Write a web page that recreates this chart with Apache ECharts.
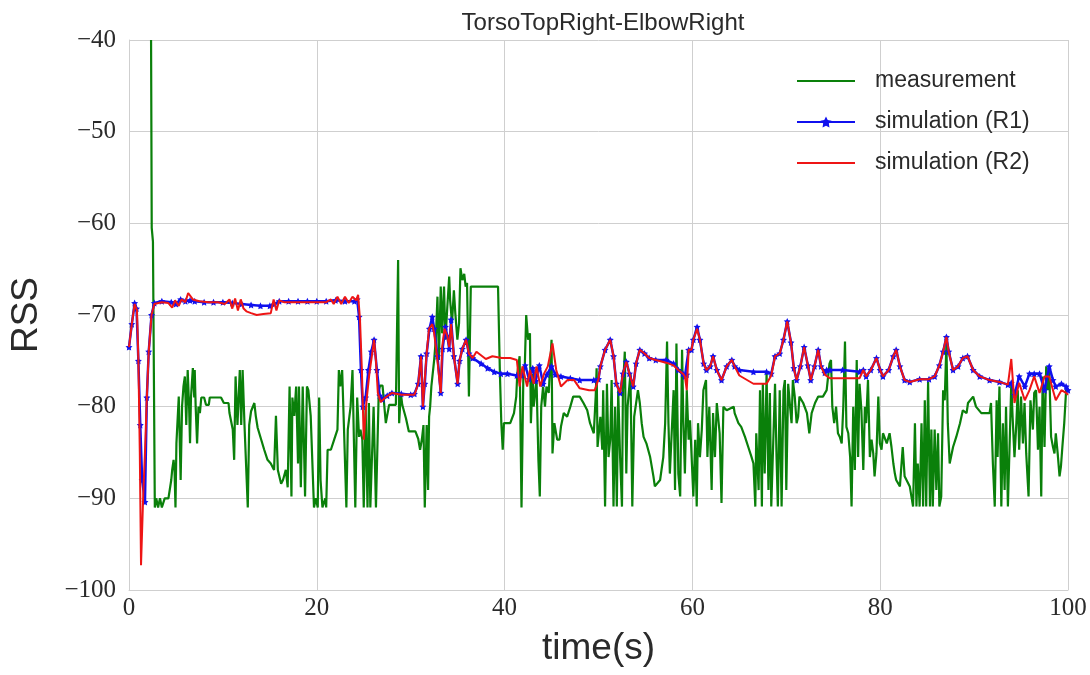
<!DOCTYPE html>
<html>
<head>
<meta charset="utf-8">
<script src="https://cdn.jsdelivr.net/npm/echarts@6/dist/echarts.min.js"></script>
<style>
html,body{margin:0;padding:0;background:#fff;}
#chart{width:1090px;height:675px;}
</style>
</head>
<body>
<div id="chart"></div>
<script>
const chartTitle = "TorsoTopRight-ElbowRight";
const seriesNames = ["measurement", "simulation (R1)", "simulation (R2)"];
const xTicks = [0, 20, 40, 60, 80, 100];
const yTicks = [-100, -90, -80, -70, -60, -50, -40];

const measurement = [
[2.35,-40],[2.42,-60.5],[2.55,-62],[2.75,-91],[2.9,-90],[3.1,-91],[3.3,-90],[3.5,-91],[3.8,-90],[4.2,-90],[4.5,-88],[4.6,-86.9],[4.75,-85.8],[4.85,-87],[4.95,-91],[5.05,-84],[5.3,-78.9],[5.5,-88],[5.65,-80],[5.8,-77.8],[5.95,-76.7],[6.1,-82],[6.25,-76],[6.4,-80],[6.5,-84],[6.6,-79],[6.8,-75.8],[6.95,-79],[7.0,-76],[7.1,-80],[7.25,-84],[7.4,-80],[7.55,-80.7],[7.7,-79],[8.0,-79],[8.2,-79.8],[8.5,-79.8],[8.6,-79],[9.0,-79],[9.5,-79],[9.8,-79],[10.1,-79.6],[10.6,-79.6],[10.7,-80.7],[11.05,-82.5],[11.2,-85.8],[11.35,-76.7],[11.55,-82],[11.8,-76],[11.95,-82],[12.1,-76],[12.3,-82],[12.65,-91],[12.8,-82],[13.0,-80.5],[13.35,-79.6],[13.5,-81],[13.7,-82.3],[14.05,-83.5],[14.4,-84.7],[14.75,-85.8],[15.1,-86.2],[15.45,-86.9],[15.65,-81],[15.85,-86.9],[16.2,-88.4],[16.4,-88],[16.7,-86.9],[16.9,-88.8],[17.1,-77.8],[17.3,-89.8],[17.4,-79],[17.6,-81],[17.8,-77.8],[18.0,-86.2],[18.1,-77.8],[18.3,-88.8],[18.5,-77.8],[18.75,-89.8],[18.95,-77.8],[19.1,-78.2],[19.35,-81],[19.7,-91],[19.9,-90],[20.1,-91],[20.25,-79],[20.4,-88],[20.6,-91],[20.9,-90],[21.0,-91],[21.15,-84.7],[21.5,-84.7],[21.85,-83.6],[22.2,-82.5],[22.35,-76],[22.5,-77.8],[22.7,-76],[22.9,-82.5],[23.15,-91],[23.3,-82.5],[23.6,-80],[23.8,-76],[23.95,-83.6],[24.1,-91],[24.3,-79],[24.5,-83.3],[24.65,-82.5],[24.85,-83.6],[25.0,-91],[25.2,-80],[25.4,-91],[25.55,-79.6],[25.7,-91],[25.9,-84.7],[26.05,-80],[26.3,-91],[26.6,-78.2],[26.75,-77.7],[27.0,-77.7],[27.18,-79.8],[27.35,-81.8],[27.53,-81.8],[27.7,-79.8],[28.06,-79.8],[28.42,-79.8],[28.66,-64],[28.77,-81.8],[28.95,-78.5],[29.1,-79.8],[29.5,-81.3],[29.8,-82.7],[30.5,-82.7],[30.8,-83.5],[31.0,-84.7],[31.2,-83.5],[31.36,-82],[31.5,-91],[31.7,-82],[31.85,-89.1],[31.96,-81.1],[32.07,-80],[32.2,-77.8],[32.5,-74.9],[32.67,-72.7],[32.85,-68],[33.0,-74.9],[33.2,-66.9],[33.35,-72],[33.55,-66.9],[33.7,-72.7],[33.9,-69.1],[34.1,-65.8],[34.2,-68.4],[34.4,-70.9],[34.6,-67.3],[34.75,-69.8],[34.97,-72.7],[35.15,-70.9],[35.3,-64.9],[35.5,-66.2],[35.7,-65.5],[35.85,-66.9],[36.0,-66.5],[36.2,-78.9],[36.4,-66.9],[39.3,-66.9],[39.5,-76.4],[39.65,-81.8],[39.8,-84.7],[39.93,-81.8],[40.6,-81.8],[41.0,-80.7],[41.24,-78.9],[41.35,-76.4],[41.6,-74.5],[41.8,-91],[42.0,-76.4],[42.15,-75.6],[42.3,-70],[42.5,-72.7],[42.7,-72],[42.8,-81.8],[43.0,-76.4],[43.1,-80],[43.4,-77.1],[43.6,-85.8],[43.75,-89.8],[43.9,-80],[44.1,-77.8],[44.3,-80],[44.46,-77.8],[44.7,-78.5],[45.0,-72.7],[45.1,-85.1],[45.3,-81.8],[45.6,-83.6],[45.85,-83.6],[46.0,-82.2],[46.3,-80.7],[46.66,-81.1],[47.0,-80],[47.3,-78.9],[48.0,-78.9],[48.4,-79.6],[48.8,-80.4],[49.1,-81.8],[49.5,-82.9],[49.7,-78.9],[49.8,-75.8],[49.9,-84.4],[50.2,-81.1],[50.4,-84.7],[50.5,-78.2],[50.7,-90.9],[50.9,-77.5],[51.07,-85.5],[51.25,-83.6],[51.4,-77.1],[51.6,-90.9],[51.77,-80],[51.95,-90.9],[52.1,-78.2],[52.3,-85.5],[52.5,-90.9],[52.6,-78.2],[52.8,-74],[52.96,-87.3],[53.1,-80],[53.4,-76.4],[53.6,-90.9],[53.8,-81.1],[54.2,-78.2],[54.4,-79.6],[54.6,-81.8],[54.8,-83.3],[55.1,-84],[55.5,-85.5],[55.85,-87.6],[56.0,-88.7],[56.56,-88],[56.9,-85.5],[57.1,-81.8],[57.3,-72.9],[57.45,-81.8],[57.6,-87.3],[58.0,-78.2],[58.15,-89.1],[58.3,-73.1],[58.5,-87.3],[58.7,-89.8],[58.9,-73.8],[59.04,-81.8],[59.2,-87.3],[59.4,-78.2],[59.6,-83.6],[59.75,-81.5],[60.1,-89.8],[60.3,-83.6],[60.46,-90.9],[60.6,-81.8],[60.8,-85.5],[61.0,-82.5],[61.17,-78.2],[61.45,-77.1],[61.6,-85.5],[61.8,-80],[62.05,-89.1],[62.2,-80.7],[62.4,-85.5],[62.6,-79.6],[62.9,-82.9],[63.1,-90.5],[63.3,-80],[63.65,-80.4],[64.4,-80],[64.5,-80.7],[64.9,-81.8],[65.2,-82.2],[65.6,-83.3],[65.95,-84.4],[66.3,-85.5],[66.5,-86.2],[66.7,-90.9],[66.8,-82.9],[67.05,-89.1],[67.2,-78.2],[67.4,-90.9],[67.5,-77.5],[67.7,-87.3],[67.9,-76.4],[68.1,-89.1],[68.25,-78.5],[68.4,-90.9],[68.6,-90.9],[68.8,-77.5],[68.96,-85.5],[69.1,-90.9],[69.3,-78.2],[69.5,-90.9],[69.7,-78.2],[69.85,-77.1],[70.0,-89.1],[70.2,-77.5],[70.4,-80],[70.56,-81.8],[70.7,-77.1],[70.9,-78.9],[71.1,-81.8],[71.26,-81.1],[71.4,-78.9],[71.8,-79.6],[72.2,-80.7],[72.45,-82.9],[72.7,-80.7],[73.06,-79.6],[73.4,-78.9],[73.9,-78.9],[74.3,-78.2],[74.6,-75.3],[74.76,-74.9],[74.9,-80],[75.1,-81.8],[75.3,-80],[75.5,-82.9],[75.7,-83.3],[75.9,-84],[76.07,-80],[76.25,-72.9],[76.4,-82.2],[76.6,-82.9],[76.8,-85.5],[76.95,-90.9],[77.13,-80],[77.3,-86.9],[77.5,-74.9],[77.65,-85.5],[77.8,-77.5],[78.0,-80.4],[78.2,-86.9],[78.37,-80],[78.5,-81.8],[78.7,-77.1],[78.9,-85.5],[79.08,-83.6],[79.26,-85.1],[79.4,-87.6],[79.6,-85.1],[79.8,-78.9],[79.96,-84],[80.14,-84.7],[80.3,-82.9],[80.7,-84],[81.0,-82.9],[81.2,-84.4],[81.4,-86.2],[81.56,-87.3],[81.7,-88],[82.1,-88.7],[82.4,-84.4],[82.6,-87.6],[83.15,-88.7],[83.5,-90.9],[83.7,-81.8],[83.86,-90.9],[84.0,-86.2],[84.2,-90.9],[84.4,-81.8],[84.57,-90.9],[84.75,-79.3],[84.9,-90.9],[85.1,-77.3],[85.3,-90.9],[85.45,-82.5],[85.6,-90.9],[85.8,-82.5],[85.98,-89.1],[86.16,-82.9],[86.3,-90.9],[86.5,-89.8],[86.7,-78.2],[86.87,-79.3],[87.05,-73.1],[87.2,-81.8],[87.4,-86.2],[87.76,-84.4],[88.1,-83.3],[88.5,-81.8],[88.8,-80.4],[89.2,-80.7],[89.35,-79.6],[89.9,-78.9],[90.2,-80],[90.77,-80.7],[91.65,-80.7],[91.8,-79.6],[92.0,-86.2],[92.2,-90.9],[92.4,-79.3],[92.5,-85.5],[92.7,-77.8],[92.9,-90.9],[93.07,-81.8],[93.25,-89.1],[93.4,-80],[93.6,-90.9],[93.8,-90.9],[93.96,-77.5],[94.1,-81.1],[94.3,-85.5],[94.5,-81.8],[94.65,-78.2],[94.8,-84.7],[95.0,-78.9],[95.2,-84],[95.37,-79.6],[95.55,-85.1],[95.8,-89.8],[96.0,-79.3],[96.26,-82.5],[96.4,-78.5],[96.6,-78.2],[96.8,-84.7],[96.97,-80],[97.15,-89.8],[97.3,-76.7],[97.5,-84.4],[97.68,-75.6],[97.85,-78.2],[98.0,-76],[98.2,-83.3],[98.4,-84.4],[98.56,-85.1],[98.7,-82.9],[98.9,-85.1],[99.1,-87.6],[99.25,-86.5],[99.4,-84.4],[99.6,-81.8],[99.8,-78.2],[100,-78]
];

const simR1 = [
[0,-73.5],[0.3,-71],[0.6,-68.7],[0.8,-69.3],[1.0,-75],[1.2,-82],[1.4,-88],[1.7,-90.4],[1.9,-79],[2.1,-74],[2.4,-70],[2.7,-68.7],[3.5,-68.5],[4.5,-68.6],[5.0,-68.8],[5.5,-68.3],[6.0,-68.5],[6.5,-68.4],[7.0,-68.5],[8,-68.6],[9,-68.6],[10,-68.6],[11,-68.7],[12,-68.8],[13,-68.9],[14,-69],[15,-69],[15.5,-68.8],[16,-68.5],[17,-68.5],[18,-68.5],[19,-68.5],[20,-68.5],[21,-68.5],[22,-68.4],[23,-68.5],[24,-68.5],[24.3,-68.3],[24.5,-70.2],[24.7,-76],[24.9,-80],[25.2,-79],[25.5,-76],[25.8,-74],[26.1,-72.7],[26.4,-76],[26.7,-78.8],[27.0,-79.2],[27.5,-78.8],[28,-78.5],[29,-78.6],[30,-78.7],[30.4,-78.6],[30.8,-77.5],[31.1,-74.5],[31.3,-80],[31.5,-77.5],[31.7,-74.2],[32.0,-71.5],[32.3,-70.2],[32.5,-71.5],[32.85,-74.5],[33.2,-78.5],[33.4,-73.7],[33.7,-71.3],[33.9,-72.3],[34.1,-73.7],[34.3,-70.5],[34.6,-74.5],[35.0,-77.5],[35.2,-75],[35.5,-73.7],[35.9,-72.7],[36.2,-74.2],[36.6,-74.7],[37.5,-75.3],[38.2,-75.8],[38.9,-76.2],[39.6,-76.4],[40.3,-76.4],[41.3,-76.6],[41.8,-76.6],[42.2,-75.5],[42.6,-77],[43.0,-75.8],[43.3,-77.2],[43.7,-75.5],[44.1,-77.5],[44.5,-76.5],[45.0,-75.6],[45.4,-76.5],[46.0,-76.7],[47.0,-76.9],[48.0,-77.1],[49.5,-77.1],[50.0,-77],[50.2,-75.6],[50.7,-73.8],[51.25,-72.7],[51.6,-74.5],[51.9,-77.5],[52.3,-78.5],[52.6,-76.4],[52.96,-75.1],[53.3,-76.4],[53.7,-77.8],[54.0,-75.3],[54.4,-73.8],[54.9,-74.2],[55.4,-74.7],[56.1,-74.9],[57.2,-74.9],[58.0,-75.3],[58.5,-76],[59.0,-76.4],[59.2,-76.7],[59.4,-76.5],[59.6,-73.8],[59.9,-73.8],[60.1,-72.7],[60.5,-71.3],[60.8,-72.7],[61.2,-75.3],[61.5,-76],[61.9,-75.6],[62.2,-74.5],[62.6,-76],[63.1,-77.1],[63.65,-75.6],[64.2,-74.9],[64.5,-75.6],[65.0,-76],[66.5,-76.2],[67.9,-76.2],[68.4,-76.4],[68.8,-74.5],[69.3,-74.2],[69.7,-72.7],[70.1,-70.7],[70.5,-73],[70.8,-75.8],[71.1,-77.1],[71.5,-75.6],[71.9,-73.5],[72.3,-75.5],[72.6,-77.1],[73.0,-75.6],[73.4,-73.8],[73.7,-75.6],[74.1,-76.3],[74.3,-76],[74.65,-76],[76,-76],[77.8,-76.2],[78.2,-76],[78.5,-76.7],[79.0,-76],[79.6,-74.7],[80,-76],[80.3,-76.7],[80.9,-76],[81.4,-74.5],[81.7,-73.8],[82.1,-75.6],[82.6,-77.1],[83.15,-77.3],[84.2,-77],[85.2,-77],[85.8,-76.7],[86.3,-75.5],[86.7,-74],[87.05,-72.4],[87.3,-74],[87.76,-76],[88.3,-75.6],[88.8,-74.7],[89.3,-74.5],[89.9,-76],[90.6,-76.7],[91.65,-77.1],[92.7,-77.3],[93.6,-77.6],[93.96,-77.4],[94.3,-78.7],[94.8,-76.7],[95.4,-77.8],[95.9,-76.4],[96.4,-76.4],[96.97,-76.4],[97.5,-78.2],[98.0,-75.6],[98.4,-77.1],[98.7,-77.8],[99.3,-77.5],[99.8,-77.8],[100,-78.2]
];

const simR2 = [
[0,-73.5],[0.3,-71],[0.6,-68.8],[0.85,-69.5],[1.0,-75],[1.15,-85],[1.28,-97.3],[1.52,-89.5],[1.7,-85],[1.9,-79],[2.1,-74],[2.4,-70],[2.7,-68.8],[3.5,-68.6],[4.2,-68.7],[4.6,-69.2],[4.9,-68.4],[5.3,-69],[5.6,-68.3],[6.0,-68.6],[6.3,-67.6],[6.5,-67.4],[6.8,-68.3],[7.5,-68.5],[8.5,-68.6],[9.5,-68.6],[10.2,-68.8],[10.7,-68.3],[11.0,-69.3],[11.3,-68.2],[11.6,-69.5],[11.9,-68.3],[12.2,-69.3],[12.5,-69.6],[13.0,-69.8],[13.6,-70],[14.3,-69.9],[15.1,-69.8],[15.4,-68.3],[15.7,-69.5],[16.0,-68.4],[16.5,-68.6],[18,-68.6],[20,-68.6],[21,-68.6],[21.5,-68.3],[21.8,-68.8],[22.2,-68],[22.6,-68.8],[23,-68],[23.4,-68.7],[23.8,-68],[24.2,-68.4],[24.4,-67.8],[24.6,-70.5],[24.8,-76],[25.0,-83.6],[25.3,-79.3],[25.6,-76.4],[25.9,-74.2],[26.1,-72.7],[26.3,-75],[26.5,-78.5],[26.8,-79.5],[27.3,-79],[28,-78.5],[29,-78.7],[30.4,-78.7],[30.8,-77.5],[31.1,-74.5],[31.3,-80],[31.5,-77],[31.7,-74.2],[31.95,-71.5],[32.3,-71],[32.5,-72],[32.8,-74.5],[33.2,-78.5],[33.35,-73.5],[33.6,-71.5],[33.9,-72.3],[34.1,-73.5],[34.3,-71],[34.6,-74.5],[35.0,-77.5],[35.2,-75],[35.5,-73.7],[35.9,-72.7],[36.2,-74.2],[36.6,-74.7],[37.0,-74],[38.0,-74.8],[38.7,-74.5],[39.7,-74.7],[40.6,-74.7],[41.3,-74.9],[41.6,-77.8],[41.9,-75.6],[42.4,-77.8],[42.7,-76],[43.1,-77.5],[43.4,-75.6],[43.8,-77.8],[44.2,-76.4],[44.6,-75.6],[45.1,-73.1],[45.5,-76],[46.0,-77.8],[46.7,-77.1],[47.4,-77.1],[48.0,-78],[49.0,-78.2],[49.6,-78.2],[50.0,-77],[50.2,-75.6],[50.7,-73.8],[51.25,-72.7],[51.6,-74.5],[51.9,-77.5],[52.3,-78.5],[52.6,-76.4],[52.96,-75.1],[53.3,-76.4],[53.7,-77.8],[54.0,-75.3],[54.4,-73.8],[54.9,-74.2],[55.4,-74.7],[56.1,-74.9],[57.2,-75.2],[58.0,-75.5],[58.5,-76],[59.0,-76.4],[59.2,-76.7],[59.4,-78.2],[59.6,-73.8],[59.9,-73.8],[60.1,-72.7],[60.5,-71.5],[60.8,-72.7],[61.2,-75.3],[61.5,-76],[61.9,-75.6],[62.2,-74.5],[62.6,-76],[63.1,-77.1],[63.65,-75.6],[64.2,-74.9],[64.5,-75.6],[65.0,-76.6],[66.5,-77.5],[67.9,-77.5],[68.4,-76.6],[68.8,-74.5],[69.3,-74.2],[69.7,-72.7],[70.1,-70.7],[70.5,-73],[70.8,-75.8],[71.1,-77.1],[71.5,-75.6],[71.9,-73.5],[72.3,-75.5],[72.6,-77.1],[73.0,-75.6],[73.4,-73.8],[73.7,-75.6],[74.1,-76.5],[74.3,-76.6],[74.65,-76.9],[76,-76.9],[77.8,-76.9],[78.2,-76],[78.5,-76.7],[79.0,-76],[79.6,-74.7],[80,-76],[80.3,-76.7],[80.9,-76],[81.4,-74.5],[81.7,-73.8],[82.1,-75.6],[82.6,-77.1],[83.15,-77.3],[84.2,-77],[85.2,-77],[85.8,-76.7],[86.3,-75.5],[86.7,-74],[87.05,-72.4],[87.3,-74],[87.76,-76],[88.3,-75.6],[88.8,-74.7],[89.3,-74.5],[89.9,-76],[90.6,-76.7],[91.65,-77.1],[92.7,-77.3],[93.6,-77.6],[93.96,-74.8],[94.3,-79.6],[94.8,-77.4],[95.4,-79.3],[95.9,-78.2],[96.4,-76.7],[96.97,-78.5],[97.5,-76.7],[98.0,-76.7],[98.4,-78.2],[98.7,-79.3],[99.3,-78.2],[99.8,-78.5],[100,-78.7]
];

const starPath = 'path://M0,-10 L2.9,-4 L9.5,-3.1 L4.8,1.5 L5.9,8.1 L0,5 L-5.9,8.1 L-4.8,1.5 L-9.5,-3.1 L-2.9,-4 Z';
const lineIcon = 'path://M0,0 L58,0 L58,2.2 L0,2.2 Z';
const gridColor = '#cfcfcf';
const fmtMinus = v => String(v).replace('-', '\u2212');

const chart = echarts.init(document.getElementById('chart'), null, {renderer: 'canvas'});
chart.setOption({
  animation: false,
  backgroundColor: '#ffffff',
  title: {
    text: chartTitle,
    left: 598, top: 6, textAlign: 'center',
    textStyle: {fontFamily: 'Liberation Sans', fontSize: 24, fontWeight: 'normal', color: '#2a2a2a'}
  },
  legend: {
    orient: 'vertical',
    left: 791, top: 63,
    itemWidth: 58, itemHeight: 14, itemGap: 15,
    symbolKeepAspect: true,
    textStyle: {fontFamily: 'Liberation Sans', fontSize: 23, color: '#2a2a2a', lineHeight: 26, padding: [0, 0, 0, 15]},
    data: [
      {name: seriesNames[0], icon: lineIcon},
      {name: seriesNames[1]},
      {name: seriesNames[2], icon: lineIcon}
    ]
  },
  grid: {left: 127, right: 22, top: 40, bottom: 85},
  xAxis: {
    type: 'value', min: 0, max: 100, interval: 20,
    name: 'time(s)', nameLocation: 'middle', nameGap: 40,
    nameTextStyle: {fontFamily: 'Liberation Sans', fontSize: 37, color: '#2a2a2a'},
    axisLine: {show: true, lineStyle: {color: gridColor, width: 1}},
    axisTick: {show: false},
    axisLabel: {fontFamily: 'Liberation Serif', fontSize: 25, color: '#2a2a2a', margin: 6, formatter: fmtMinus},
    splitLine: {show: true, lineStyle: {color: gridColor, width: 1}}
  },
  yAxis: {
    type: 'value', min: -100, max: -40, interval: 10,
    name: 'RSS', nameLocation: 'middle', nameGap: 84,
    nameTextStyle: {fontFamily: 'Liberation Sans', fontSize: 37, color: '#2a2a2a'},
    axisLine: {show: true, lineStyle: {color: gridColor, width: 1}},
    axisTick: {show: false},
    axisLabel: {fontFamily: 'Liberation Serif', fontSize: 25, color: '#2a2a2a', margin: 13, formatter: fmtMinus},
    splitLine: {show: true, lineStyle: {color: gridColor, width: 1}}
  },
  series: [
    {
      name: seriesNames[0], type: 'line', data: measurement,
      showSymbol: false, symbol: 'none',
      lineStyle: {color: '#0a800a', width: 2.2}, itemStyle: {color: '#0a800a'},
      clip: true, z: 2
    },
    {
      name: seriesNames[1], type: 'line', data: simR1,
      symbol: starPath, symbolSize: 7, showSymbol: true, showAllSymbol: true,
      lineStyle: {color: '#1010ee', width: 2.5}, itemStyle: {color: '#1010ee'},
      clip: true, z: 3
    },
    {
      name: seriesNames[2], type: 'line', data: simR2,
      showSymbol: false, symbol: 'none',
      lineStyle: {color: '#ee1515', width: 2}, itemStyle: {color: '#ee1515'},
      clip: true, z: 4
    }
  ]
});
</script>
</body>
</html>
